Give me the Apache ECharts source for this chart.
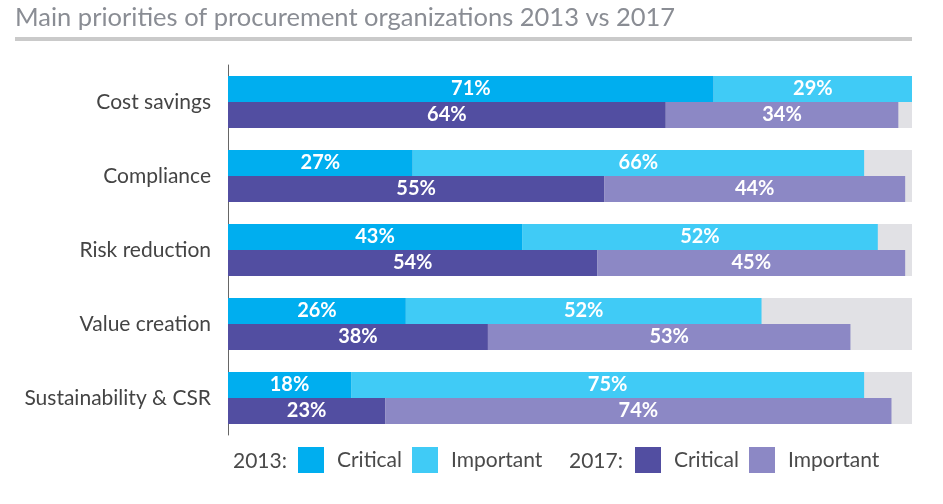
<!DOCTYPE html>
<html>
<head>
<meta charset="utf-8">
<script src="https://cdn.jsdelivr.net/npm/echarts@6/dist/echarts.min.js"></script>
<style>
html,body{margin:0;padding:0;background:#fff;}
#main{width:943px;height:504px;}
</style>
</head>
<body>
<div id="main"></div>
<script>
const categories = ['Cost savings', 'Compliance', 'Risk reduction', 'Value creation', 'Sustainability & CSR'];
const critical2013 = [71, 27, 43, 26, 18];
const important2013 = [29, 66, 52, 52, 75];
const critical2017 = [64, 55, 54, 38, 23];
const important2017 = [34, 44, 45, 53, 74];
const titleText = 'Main priorities of procurement organizations 2013 vs 2017';

const FONT = 'Lato, "Open Sans", sans-serif';
const colors = {
  c13: '#00aeef',
  i13: '#40cbf6',
  c17: '#524ea1',
  i17: '#8c88c5',
  bg: '#e1e1e5'
};

const labelCfg = {
  show: true,
  position: 'inside',
  color: '#fff',
  fontFamily: FONT,
  fontWeight: 'bold',
  fontSize: 20,
  formatter: p => p.value + '%'
};

function bar(name, stack, data, color, bg) {
  const s = {
    name: name,
    type: 'bar',
    stack: stack,
    data: data,
    barWidth: 26,
    barGap: '0%',
    itemStyle: { color: color },
    label: labelCfg,
    emphasis: { disabled: true }
  };
  if (bg) {
    s.showBackground = true;
    s.backgroundStyle = { color: colors.bg };
  }
  return s;
}

function legendAt(left, name) {
  return {
    left: left,
    top: 447,
    padding: 0,
    itemWidth: 26,
    itemHeight: 26,
    icon: 'rect',
    selectedMode: false,
    data: [name],
    formatter: n => n.split(' ')[1],
    textStyle: { fontFamily: FONT, fontSize: 21, color: '#4a4a4a', padding: [0, 0, 0, 8] }
  };
}

const chart = echarts.init(document.getElementById('main'));
chart.setOption({
  animation: false,
  grid: { left: 228, right: 31, top: 65, bottom: 69, containLabel: false },
  xAxis: { type: 'value', min: 0, max: 100, show: false },
  yAxis: {
    type: 'category',
    data: categories,
    inverse: true,
    axisTick: { show: false },
    axisLine: { show: true, lineStyle: { color: '#666', width: 1 } },
    axisLabel: { fontFamily: FONT, fontSize: 21, color: '#444', margin: 17 }
  },
  legend: [
    legendAt(298, '2013 Critical'),
    legendAt(412, '2013 Important'),
    legendAt(635, '2017 Critical'),
    legendAt(749, '2017 Important')
  ],
  graphic: [
    { type: 'text', left: 15, top: 5, style: { text: titleText, fontFamily: FONT, fontSize: 25.5, fill: '#8a8d94' } },
    { type: 'rect', shape: { x: 15, y: 37, width: 897, height: 4 }, style: { fill: '#cacaca' } },
    { type: 'text', x: 233, y: 461, style: { text: '2013:', fontFamily: FONT, fontSize: 21, fill: '#4a4a4a', verticalAlign: 'middle' } },
    { type: 'text', x: 569, y: 461, style: { text: '2017:', fontFamily: FONT, fontSize: 21, fill: '#4a4a4a', verticalAlign: 'middle' } }
  ],
  series: [
    bar('2013 Critical', 's2013', critical2013, colors.c13, true),
    bar('2013 Important', 's2013', important2013, colors.i13, false),
    bar('2017 Critical', 's2017', critical2017, colors.c17, true),
    bar('2017 Important', 's2017', important2017, colors.i17, false)
  ]
});
</script>
</body>
</html>
